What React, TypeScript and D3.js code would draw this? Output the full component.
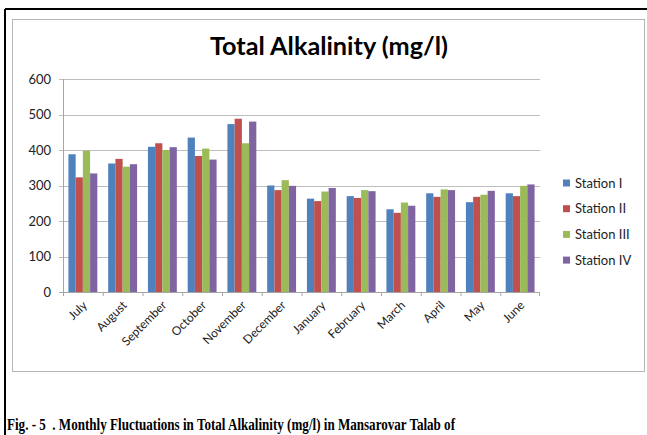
import React from "react";
import * as d3 from "d3";

const months = ["July","August","September","October","November","December","January","February","March","April","May","June"];
const stations = ["Station I","Station II","Station III","Station IV"];
const stationI = [388,362,409,435,473,300,263,270,233,278,253,278];
const stationII = [323,375,419,383,488,287,256,265,223,268,268,270];
const stationIII = [398,353,400,404,419,315,283,287,252,289,274,299];
const stationIV = [334,360,408,373,480,299,293,284,243,287,285,303];
const yTicks = [0,100,200,300,400,500,600];
const colors = ["#4F81BD","#C0504D","#9BBB59","#8064A2"];
const title = "Total Alkalinity (mg/l)";
const caption = "Fig. - 5  . Monthly Fluctuations in Total Alkalinity (mg/l) in Mansarovar Talab of";

const series = [stationI, stationII, stationIII, stationIV];

export default function App() {
  const W = 647, H = 435;
  const left = 63, right = 540, top = 79, bottom = 292;
  const x0 = d3.scaleBand<string>().domain(months).range([left, right]).paddingInner(0.273).paddingOuter(0.1365);
  const x1 = d3.scaleBand<string>().domain(stations).range([0, x0.bandwidth()]);
  const y = d3.scaleLinear().domain([0, 600]).range([bottom, top]);
  const step = x0.step();
  const font = "Lato, 'Open Sans', sans-serif";
  return (
    <svg width={W} height={H} style={{ position: "absolute", left: 0, top: 0, background: "#fff" }}>
      <rect x={0} y={0} width={W} height={H} fill="#fff" />
      {/* outer black frame */}
      <line x1={5} x2={647} y1={9} y2={9} stroke="#000" strokeWidth={2} />
      <line x1={5} x2={5} y1={9} y2={435} stroke="#000" strokeWidth={2} />
      {/* chart frame */}
      <rect x={12.5} y={19.5} width={632} height={352} fill="#fff" stroke="#b5b5b5" strokeWidth={1} />
      <text x={329} y={54.5} textAnchor="middle" fontFamily={font} fontWeight="bold" fontSize={24} fill="#000" textLength={238} lengthAdjust="spacingAndGlyphs">{title}</text>
      {/* gridlines */}
      {yTicks.map(t => (
        <g key={t}>
          <line x1={left - 4} x2={right} y1={Math.round(y(t)) + 0.5} y2={Math.round(y(t)) + 0.5} stroke={t === 0 ? "#a6a6a6" : "#bdbdbd"} strokeWidth={1} />
          <text x={51} y={y(t) + 4.5} textAnchor="end" fontFamily={font} fontSize={13} fill="#222">{t}</text>
        </g>
      ))}
      <line x1={left + 0.5} x2={left + 0.5} y1={top} y2={bottom} stroke="#a6a6a6" />
      {months.map((m, i) => (
        <line key={"tk" + m} x1={left + i * step + 0.5} x2={left + i * step + 0.5} y1={bottom} y2={bottom + 4} stroke="#a6a6a6" />
      ))}
      <line x1={right - 0.5} x2={right - 0.5} y1={bottom} y2={bottom + 4} stroke="#a6a6a6" />
      {/* bars */}
      {months.map((m, i) => (
        <g key={m} transform={`translate(${x0(m)},0)`}>
          {series.map((s, j) => (
            <rect key={j} x={x1(stations[j])} y={y(s[i])} width={x1.bandwidth()} height={bottom - y(s[i])} fill={colors[j]} />
          ))}
        </g>
      ))}
      {/* x labels */}
      {months.map(m => {
        const cx = (x0(m) as number) + x0.bandwidth() / 2 + 5;
        const cy = bottom + 14;
        return (
          <text key={"l" + m} x={cx} y={cy} textAnchor="end" fontFamily={font} fontSize={12} fill="#222" transform={`rotate(-45 ${cx} ${cy})`}>{m}</text>
        );
      })}
      {/* legend */}
      {stations.map((s, j) => {
        const ly = 183 + j * 25.7;
        return (
          <g key={s}>
            <rect x={563} y={ly - 3.5} width={7} height={7} fill={colors[j]} />
            <text x={575} y={ly + 4.5} fontFamily={font} fontSize={13} fill="#222">{s}</text>
          </g>
        );
      })}
      <text x={7} y={430} fontFamily="'Liberation Serif', 'Times New Roman', serif" fontWeight="bold" fontSize={16.5} fill="#000" textLength={448} lengthAdjust="spacingAndGlyphs" xmlSpace="preserve">{caption}</text>
    </svg>
  );
}
